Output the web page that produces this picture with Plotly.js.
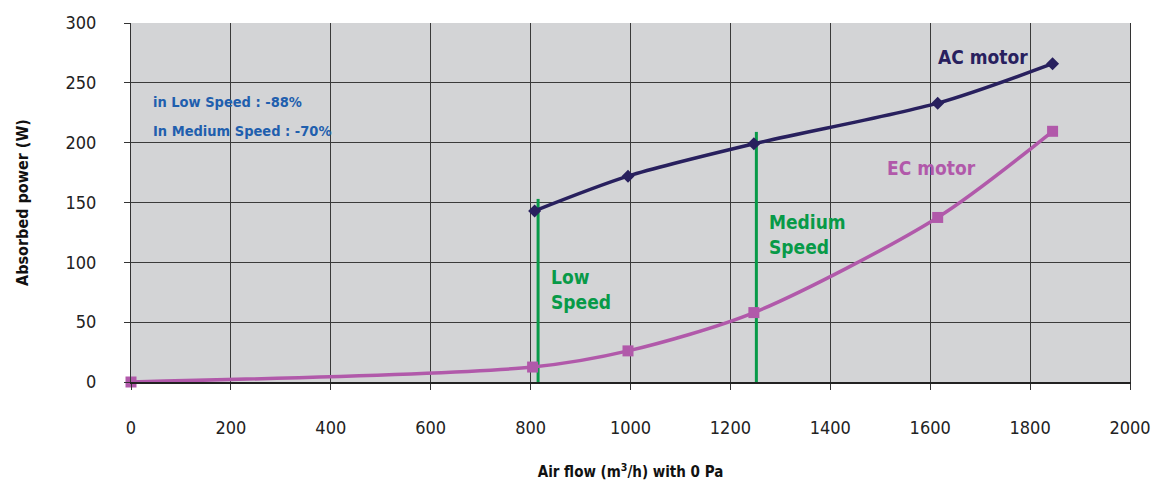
<!DOCTYPE html>
<html>
<head>
<meta charset="utf-8">
<script src="https://cdn.plot.ly/plotly-3.0.1.min.js"></script>
<style>html,body{margin:0;padding:0;background:#fff;}#chart{width:1158px;height:481px;}</style>
</head>
<body>
<div id="chart"></div>
<script>
const acFlow = [808, 995, 1247, 1615, 1845];
const acPower = [143, 172, 199, 233, 266];
const ecFlow = [0, 804, 995, 1247, 1615, 1845];
const ecPower = [0, 12.5, 26, 58, 137.5, 209.5];
const speedNames = ['Low<br>Speed', 'Medium<br>Speed'];
const speedFlow = [815, 1252];
const speedTop = [153, 209];
const savingNotes = ['in Low Speed : -88%', 'In Medium Speed : -70%'];
const xTicks = [0, 200, 400, 600, 800, 1000, 1200, 1400, 1600, 1800, 2000];
const yTicks = [0, 50, 100, 150, 200, 250, 300];

const FONT = 'Liberation Sans Narrow, DejaVu Sans Condensed, Arial Narrow, sans-serif';
const GREEN = '#079a48';

const traces = [];
speedFlow.forEach((x, i) => {
  traces.push({x: [x, x], y: [0, speedTop[i]], mode: 'lines', line: {color: GREEN, width: 3}, hoverinfo: 'skip', showlegend: false});
});
traces.push({x: acFlow, y: acPower, mode: 'lines+markers', cliponaxis: false, line: {color: '#28205e', width: 3.5, shape: 'spline', smoothing: 0.8}, marker: {symbol: 'diamond', size: 10, color: '#28205e'}, showlegend: false});
traces.push({x: ecFlow, y: ecPower, mode: 'lines+markers', cliponaxis: false, line: {color: '#b159aa', width: 3.5, shape: 'spline', smoothing: 0.8}, marker: {symbol: 'square', size: 11, color: '#b159aa'}, showlegend: false});

const annotations = [
  {x: 1706, y: 272, text: '<b>AC motor</b>', font: {family: FONT, size: 19, color: '#28205e'}},
  {x: 1603, y: 179, text: '<b>EC motor</b>', font: {family: FONT, size: 19, color: '#b159aa'}},
  {x: speedFlow[0] + 22, y: 77, xanchor: 'left', align: 'left', text: '<b>' + speedNames[0] + '</b>', font: {family: FONT, size: 19, color: GREEN}},
  {x: speedFlow[1] + 22, y: 123, xanchor: 'left', align: 'left', text: '<b>' + speedNames[1] + '</b>', font: {family: FONT, size: 19, color: GREEN}}
];
[234, 210].forEach((yv, i) => {
  annotations.push({x: 40, y: yv, xanchor: 'left', align: 'left', text: '<b>' + savingNotes[i] + '</b>', font: {family: FONT, size: 14.5, color: '#1f5fae'}});
});
annotations.forEach(a => { a.xref = 'x'; a.yref = 'y'; a.showarrow = false; });

const layout = {
  width: 1158, height: 481,
  margin: {l: 131, r: 28, t: 23, b: 99},
  paper_bgcolor: '#ffffff',
  plot_bgcolor: '#d3d4d6',
  font: {family: FONT, size: 17, color: '#222'},
  xaxis: {
    range: [0, 2000], tickvals: xTicks, ticktext: xTicks.map(String),
    showgrid: true, gridcolor: '#3a3a3a', gridwidth: 1,
    zeroline: false, showline: true, linecolor: '#222', linewidth: 2, mirror: false,
    ticks: 'outside', ticklen: 6, tickcolor: '#333', ticklabelstandoff: 22,
    tickfont: {family: FONT, size: 18, color: '#222'},
    title: {text: '<b>Air flow (m<sup>3</sup>/h) with 0 Pa</b>', font: {family: FONT, size: 15, color: '#111'}, standoff: 30}
  },
  yaxis: {
    range: [0, 300], tickvals: yTicks, ticktext: yTicks.map(String),
    showgrid: true, gridcolor: '#3a3a3a', gridwidth: 1,
    zeroline: false, showline: true, linecolor: '#333', linewidth: 1, mirror: true,
    ticks: 'outside', ticklen: 6, tickcolor: '#333', ticklabelstandoff: 24,
    tickfont: {family: FONT, size: 18, color: '#222'},
    title: {text: '<b>Absorbed power (W)</b>', font: {family: FONT, size: 16, color: '#111'}, standoff: 32}
  },
  annotations: annotations
};
Plotly.newPlot('chart', traces, layout, {displayModeBar: false, staticPlot: true});
</script>
</body>
</html>
